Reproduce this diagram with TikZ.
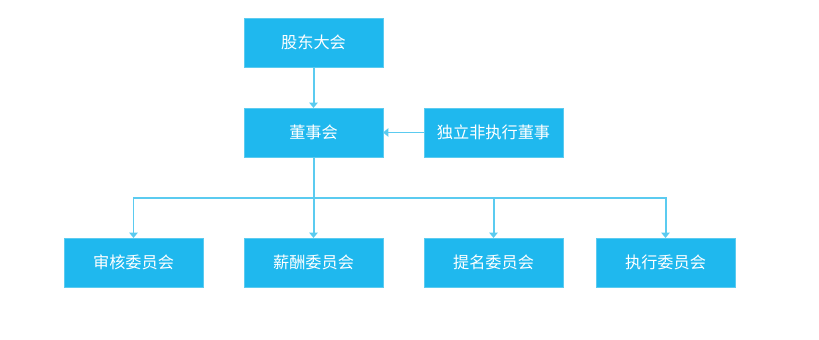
\documentclass[tikz,border=0pt]{standalone}
\usepackage{fontspec}
\newfontfamily\cjk{Noto Sans CJK SC}
\usetikzlibrary{positioning,arrows.meta,calc}
\definecolor{boxfill}{HTML}{1FB8EE}
\definecolor{boxline}{HTML}{5BCBF0}
\definecolor{linkcol}{HTML}{5BCBF0}
\tikzset{
    orgbox/.style={rectangle, draw=boxline, fill=boxfill, line width=0.8pt, minimum width=4.17cm, minimum height=1.47cm, outer sep=0pt, align=center, font=\cjk\fontsize{13.8pt}{16pt}\selectfont, text=white},
    arrow/.style={-{Triangle[width=7pt, length=4.5pt]}, line width=1.7pt, color=linkcol}
}
\begin{document}
\begin{tikzpicture}[node distance=1.23cm]
    \useasboundingbox (0,0) rectangle (24.57,-10.2);
    \node[orgbox] (gudong) at (9.405,-1.275) {股东大会};
    \node[orgbox, below=of gudong] (dongshi) {董事会};
    \node[orgbox, right=of dongshi] (duli) {独立非执行董事};
    \node[orgbox, below=2.43cm of dongshi] (xinchou) {薪酬委员会};
    \node[orgbox, left=of xinchou] (shenhe) {审核委员会};
    \node[orgbox, right=of xinchou] (timing) {提名委员会};
    \node[orgbox, right=0.99cm of timing] (zhixing) {执行委员会};
    \coordinate (split) at ($(dongshi.south)+(0,-1.23)$);
    \draw[arrow] (gudong) -- (dongshi);
    \draw[arrow] (duli) -- (dongshi);
    \draw[arrow] (dongshi) -- (xinchou);
    \draw[arrow] (split) -| (shenhe);
    \draw[arrow] (split) -| (timing);
    \draw[arrow] (split) -| (zhixing);
\end{tikzpicture}
\end{document}
